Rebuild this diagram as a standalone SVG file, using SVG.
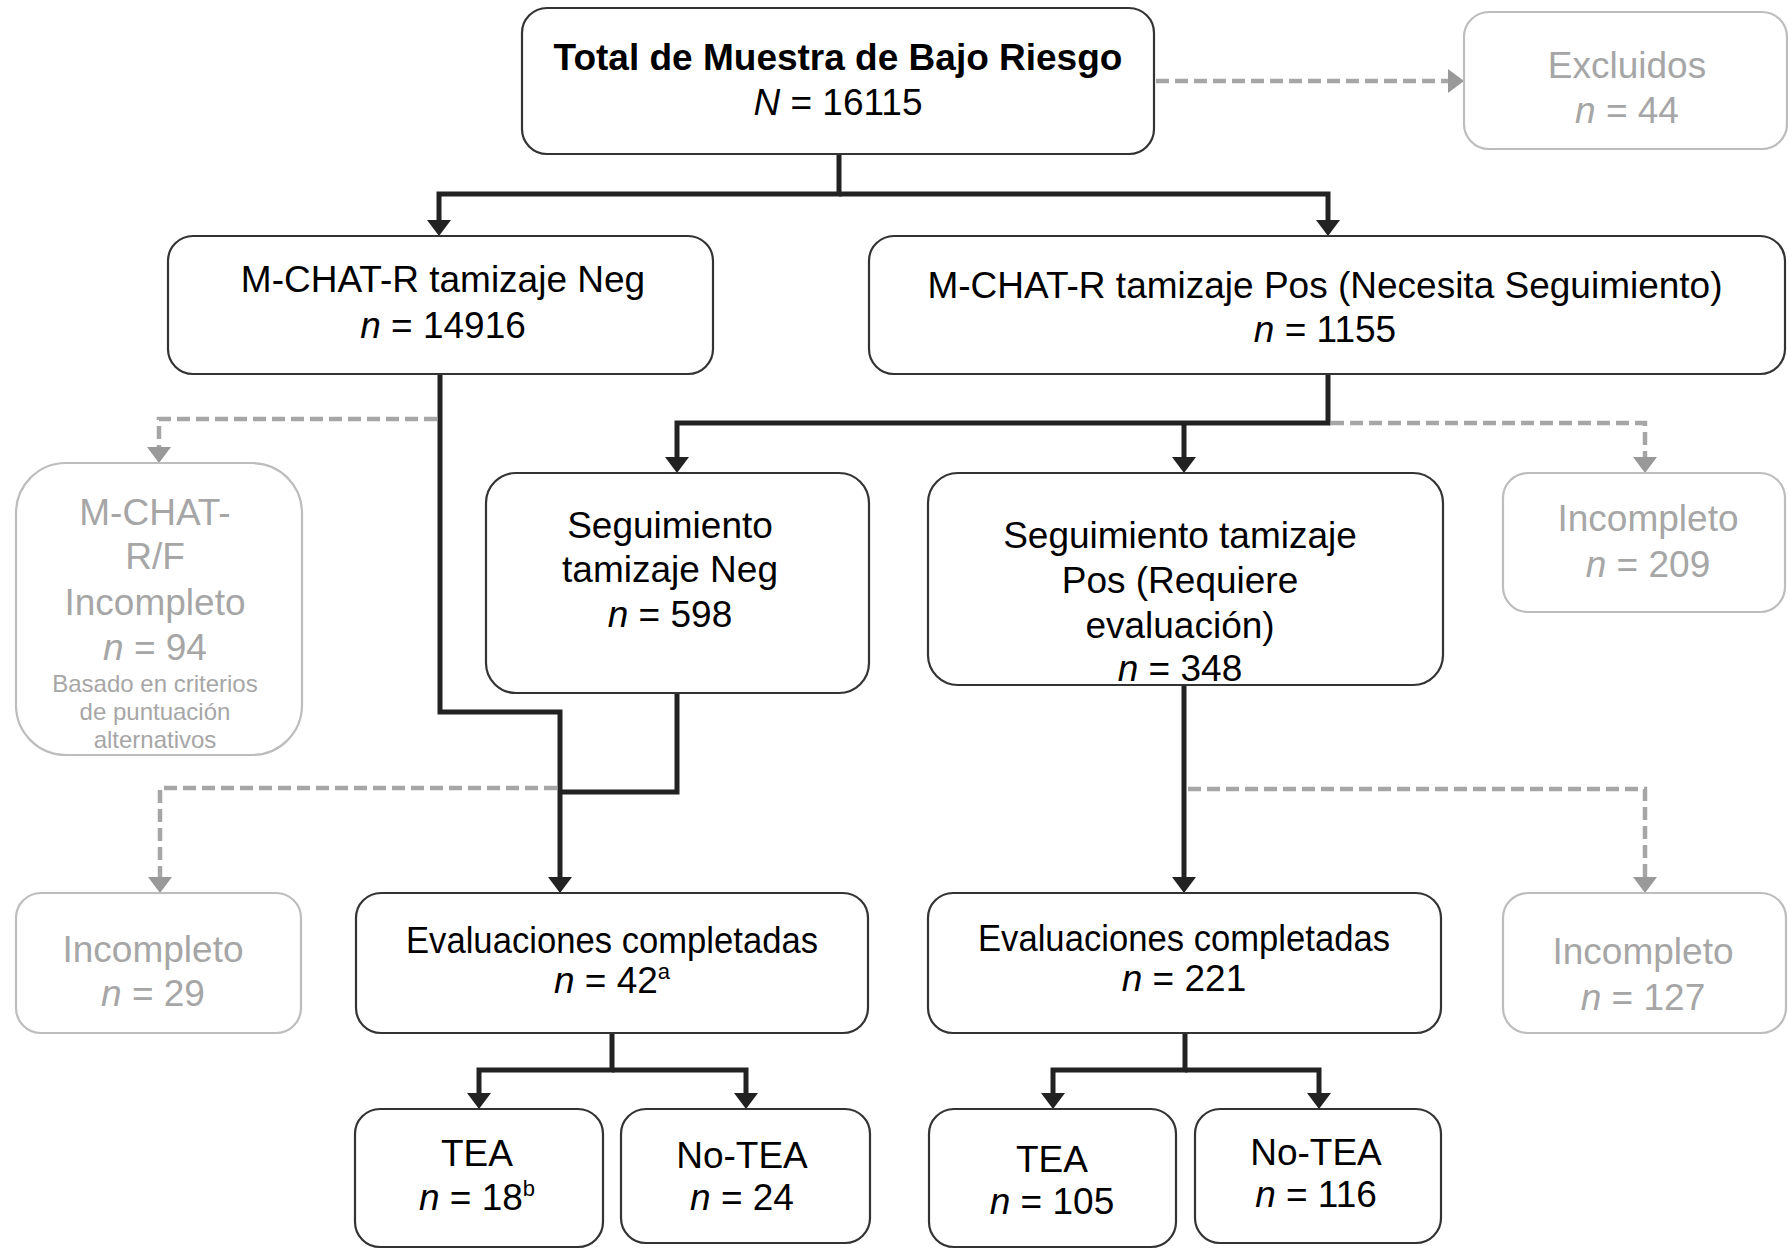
<svg xmlns="http://www.w3.org/2000/svg" width="1788" height="1249" viewBox="0 0 1788 1249">
<defs>
<style>
.box{fill:#fff;stroke:#333;stroke-width:2.2}
.gbox{fill:#fff;stroke:#bdbdbd;stroke-width:2.2}
text{font-family:"Liberation Sans",Arial,sans-serif;font-size:37px;text-anchor:middle}
.t{fill:#000}
.g{fill:#a6a6a6}
.small{font-size:24px}
.b{font-weight:bold}
.i{font-style:italic}
.sup{font-size:22px}
.blk{fill:none;stroke:#222;stroke-width:5;stroke-linejoin:miter}
.dsh{fill:none;stroke:#a6a6a6;stroke-width:4.5;stroke-dasharray:13 6}
</style>
<marker id="ab" markerUnits="userSpaceOnUse" markerWidth="16" markerHeight="24" refX="4" refY="12" orient="auto" viewBox="0 0 16 24">
<path d="M0,0 L16,12 L0,24 z" fill="#222"/>
</marker>
<marker id="ag" markerUnits="userSpaceOnUse" markerWidth="16" markerHeight="24" refX="4" refY="12" orient="auto" viewBox="0 0 16 24">
<path d="M0,0 L16,12 L0,24 z" fill="#999"/>
</marker>
</defs>
<rect width="1788" height="1249" fill="#fff"/>

<g id="connectors">
<path class="blk" d="M839 154 V194 H439 V224" marker-end="url(#ab)"/>
<path class="blk" d="M839 194 H1328 V224" marker-end="url(#ab)"/>
<path class="blk" d="M1328 374 V423 H677 V461" marker-end="url(#ab)"/>
<path class="blk" d="M1184 423 V461" marker-end="url(#ab)"/>
<path class="blk" d="M440 374 V712 H560 V881" marker-end="url(#ab)"/>
<path class="blk" d="M677 693 V792 H560"/>
<path class="blk" d="M1184 685 V881" marker-end="url(#ab)"/>
<path class="blk" d="M612 1033 V1070 H479 V1097" marker-end="url(#ab)"/>
<path class="blk" d="M612 1070 H746 V1097" marker-end="url(#ab)"/>
<path class="blk" d="M1185 1033 V1070 H1053 V1097" marker-end="url(#ab)"/>
<path class="blk" d="M1185 1070 H1319 V1097" marker-end="url(#ab)"/>
<path class="dsh" d="M1156 81 H1452" marker-end="url(#ag)"/>
<path class="dsh" d="M437 419 H159 V451" marker-end="url(#ag)"/>
<path class="dsh" d="M1331 423 H1645 V461" marker-end="url(#ag)"/>
<path class="dsh" d="M557 788 H160 V881" marker-end="url(#ag)"/>
<path class="dsh" d="M1188 789 H1645 V881" marker-end="url(#ag)"/>
</g>

<g id="total">
<rect class="box" x="522" y="8" width="632" height="146" rx="25"/>
<text class="t b" x="838" y="70">Total de Muestra de Bajo Riesgo</text>
<text class="t" x="838" y="115"><tspan class="i">N</tspan> = 16115</text>
</g>
<g id="excluidos">
<rect class="gbox" x="1464" y="12" width="323" height="137" rx="25"/>
<text class="g" x="1627" y="78">Excluidos</text>
<text class="g" x="1627" y="123"><tspan class="i">n</tspan> = 44</text>
</g>
<g id="neg">
<rect class="box" x="168" y="236" width="545" height="138" rx="25"/>
<text class="t" x="443" y="292">M-CHAT-R tamizaje Neg</text>
<text class="t" x="443" y="338"><tspan class="i">n</tspan> = 14916</text>
</g>
<g id="pos">
<rect class="box" x="869" y="236" width="916" height="138" rx="25"/>
<text class="t" x="1325" y="298">M-CHAT-R tamizaje Pos (Necesita Seguimiento)</text>
<text class="t" x="1325" y="342"><tspan class="i">n</tspan> = 1155</text>
</g>
<g id="mchatrf">
<rect class="gbox" x="16" y="463" width="286" height="292" rx="50"/>
<text class="g" x="155" y="525">M-CHAT-</text>
<text class="g" x="155" y="569">R/F</text>
<text class="g" x="155" y="615">Incompleto</text>
<text class="g" x="155" y="660"><tspan class="i">n</tspan> = 94</text>
<text class="g small" x="155" y="692">Basado en criterios</text>
<text class="g small" x="155" y="720">de puntuación</text>
<text class="g small" x="155" y="748">alternativos</text>
</g>
<g id="segneg">
<rect class="box" x="486" y="473" width="383" height="220" rx="30"/>
<text class="t" x="670" y="538">Seguimiento</text>
<text class="t" x="670" y="582">tamizaje Neg</text>
<text class="t" x="670" y="627"><tspan class="i">n</tspan> = 598</text>
</g>
<g id="segpos">
<rect class="box" x="928" y="473" width="515" height="212" rx="30"/>
<text class="t" x="1180" y="548">Seguimiento tamizaje</text>
<text class="t" x="1180" y="593">Pos (Requiere</text>
<text class="t" x="1180" y="638">evaluación)</text>
<text class="t" x="1180" y="681"><tspan class="i">n</tspan> = 348</text>
</g>
<g id="inc209">
<rect class="gbox" x="1503" y="473" width="282" height="139" rx="25"/>
<text class="g" x="1648" y="531">Incompleto</text>
<text class="g" x="1648" y="577"><tspan class="i">n</tspan> = 209</text>
</g>
<g id="inc29">
<rect class="gbox" x="16" y="893" width="285" height="140" rx="25"/>
<text class="g" x="153" y="962">Incompleto</text>
<text class="g" x="153" y="1006"><tspan class="i">n</tspan> = 29</text>
</g>
<g id="eval1">
<rect class="box" x="356" y="893" width="512" height="140" rx="25"/>
<text class="t" x="612" y="953" textLength="412" lengthAdjust="spacingAndGlyphs">Evaluaciones completadas</text>
<text class="t" x="612" y="993"><tspan class="i">n</tspan> = 42<tspan class="sup" dy="-14">a</tspan></text>
</g>
<g id="eval2">
<rect class="box" x="928" y="893" width="513" height="140" rx="25"/>
<text class="t" x="1184" y="951" textLength="412" lengthAdjust="spacingAndGlyphs">Evaluaciones completadas</text>
<text class="t" x="1184" y="991"><tspan class="i">n</tspan> = 221</text>
</g>
<g id="inc127">
<rect class="gbox" x="1503" y="893" width="283" height="140" rx="25"/>
<text class="g" x="1643" y="964">Incompleto</text>
<text class="g" x="1643" y="1010"><tspan class="i">n</tspan> = 127</text>
</g>
<g id="tea1">
<rect class="box" x="355" y="1109" width="248" height="138" rx="25"/>
<text class="t" x="477" y="1166">TEA</text>
<text class="t" x="477" y="1210"><tspan class="i">n</tspan> = 18<tspan class="sup" dy="-14">b</tspan></text>
</g>
<g id="notea1">
<rect class="box" x="621" y="1109" width="249" height="134" rx="25"/>
<text class="t" x="742" y="1168">No-TEA</text>
<text class="t" x="742" y="1210"><tspan class="i">n</tspan> = 24</text>
</g>
<g id="tea2">
<rect class="box" x="929" y="1109" width="247" height="138" rx="25"/>
<text class="t" x="1052" y="1172">TEA</text>
<text class="t" x="1052" y="1214"><tspan class="i">n</tspan> = 105</text>
</g>
<g id="notea2">
<rect class="box" x="1195" y="1109" width="246" height="134" rx="25"/>
<text class="t" x="1316" y="1165">No-TEA</text>
<text class="t" x="1316" y="1207"><tspan class="i">n</tspan> = 116</text>
</g>
</svg>
